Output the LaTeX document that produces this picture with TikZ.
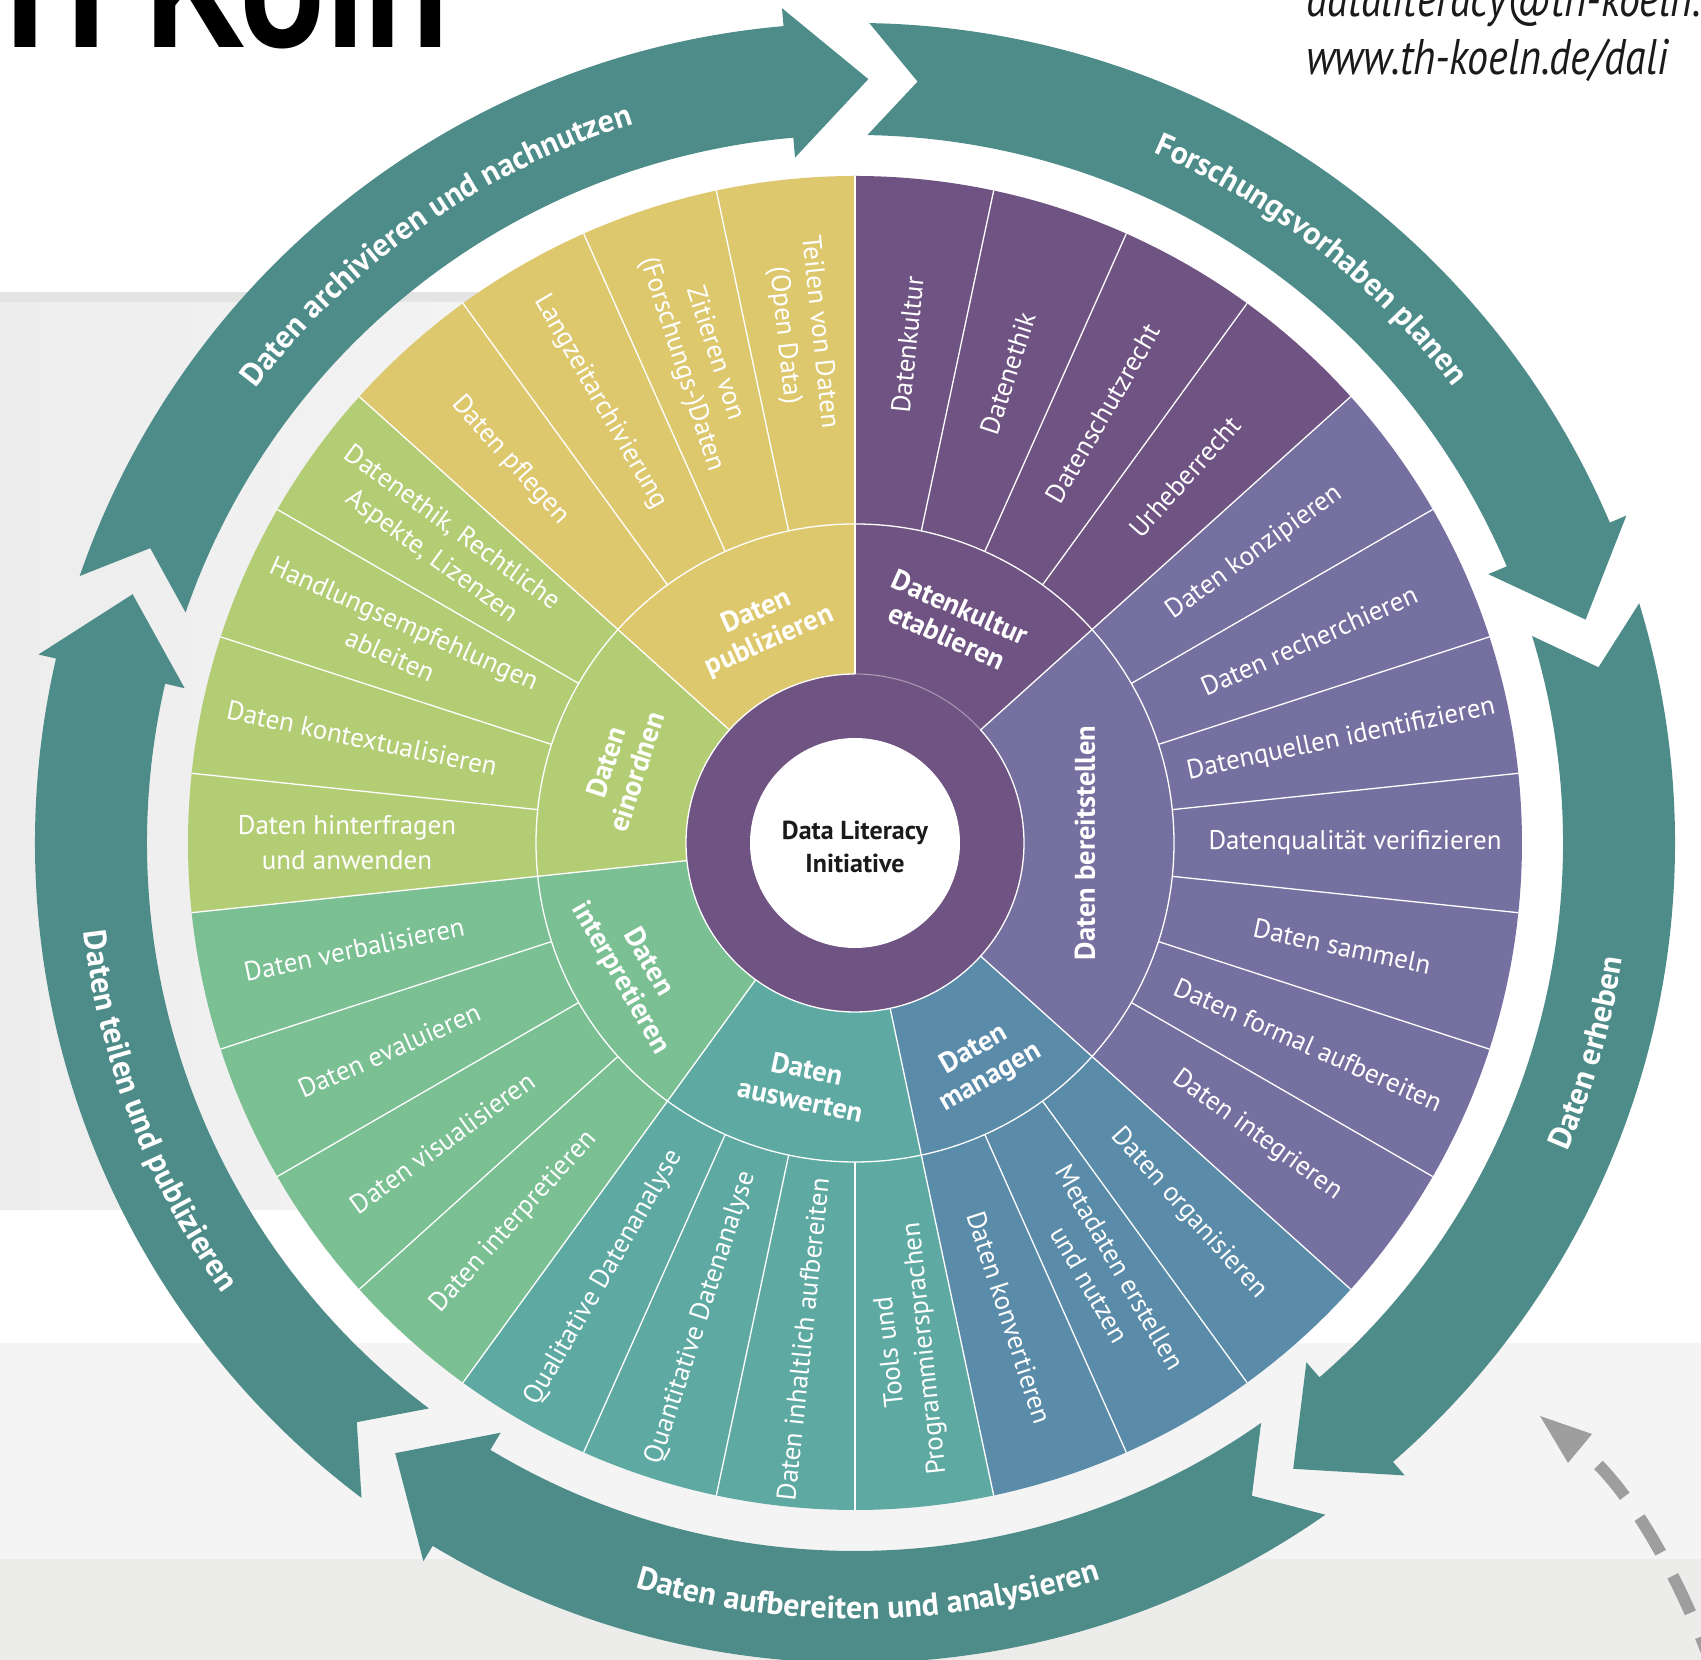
\documentclass[tikz,border=0pt]{standalone}
\usepackage{fontspec}
\setmainfont{PT Sans}
\newfontfamily\herosfam{TeX Gyre Heros}
\usepackage{graphicx}
\usetikzlibrary{decorations.text}
\definecolor{arrowc}{HTML}{4E8C89}
\definecolor{kultur}{HTML}{6F5382}
\definecolor{bereit}{HTML}{7570A0}
\definecolor{manag}{HTML}{5A8CAA}
\definecolor{auswert}{HTML}{5EAAA3}
\definecolor{interp}{HTML}{7AC093}
\definecolor{einord}{HTML}{B3CD75}
\definecolor{publ}{HTML}{DEC86E}
\definecolor{panelL}{HTML}{EDEDED}
\definecolor{panelR}{HTML}{F8F8F8}
\definecolor{panelEdge}{HTML}{E4E4E4}
\definecolor{bandA}{HTML}{F4F4F4}
\definecolor{bandB}{HTML}{ECECEA}
\definecolor{dashc}{HTML}{9E9E9E}
\definecolor{ink}{HTML}{1A1A1A}
\begin{document}
\begin{tikzpicture}[x=1pt,y=1pt,
  seg/.style={text=white, font=\fontsize{27}{35}\selectfont, align=center, inner sep=0pt},
  cat/.style={text=white, font=\bfseries\fontsize{28.5}{32}\selectfont, align=center, inner sep=0pt},
  sepline/.style={draw=white, line width=1.3pt},
  arrowtext/.style={decorate, decoration={text along path, text align=center, text color=white, text={|\bfseries\fontsize{32}{32}\selectfont|#1}}}
]
\useasboundingbox (0,0) rectangle (1701,1660);
% background
\fill[white] (0,0) rectangle (1701,1660);
\shade[left color=panelL, right color=panelR] (0,450) rectangle (855,1360);
\fill[panelEdge] (0,1358) rectangle (855,1368);
\fill[bandA] (0,101) rectangle (1701,317);
\fill[bandB] (0,0) rectangle (1701,101);

% header texts
\node[anchor=base east, inner sep=0pt, text=black, font=\herosfam\bfseries\fontsize{170}{170}\selectfont] (title) at (450,1612) {\scalebox{0.82}[1]{TH Köln}};
\node[anchor=base west, inner sep=0pt, text=ink, font=\itshape\fontsize{50}{50}\selectfont] (mail) at (1306,1643) {\scalebox{0.84}[1]{dataliteracy@th-koeln.de}};
\node[anchor=base west, inner sep=0pt, text=ink, font=\itshape\fontsize{50}{50}\selectfont] (web) at (1306,1585) {\scalebox{0.84}[1]{www.th-koeln.de/dali}};

\begin{scope}[shift={(855,817)}]
% ring arrows
\foreach \J in {89,17,-55,-127,161}{
  \pgfmathsetmacro\Jb{\J-66}
  \pgfmathsetmacro\Jt{\J-72}
  \pgfmathsetmacro\Jn{\J-3.7}
  \fill[arrowc] (\J:820) arc[start angle=\J, end angle=\Jb, radius=820]
     -- (\Jb:838) -- (\Jt:764) -- (\Jb:688) -- (\Jb:708)
     arc[start angle=\Jb, end angle=\J, radius=708] -- (\Jn:764) -- cycle;
}
\path[arrowtext={Forschungsvorhaben planen}] (90:752) arc[start angle=90, end angle=14, radius=752];
\path[arrowtext={Daten erheben}] (-54:776) arc[start angle=-54, end angle=22, radius=776];
\path[arrowtext={Daten aufbereiten und analysieren}] (-127:776) arc[start angle=-127, end angle=-51, radius=776];
\path[arrowtext={Daten teilen und publizieren}] (163:776) arc[start angle=163, end angle=239, radius=776];
\path[arrowtext={Daten archivieren und nachnutzen}] (163:752) arc[start angle=163, end angle=87, radius=752];

% category sectors
\foreach \a/\b/\c in {90/42/kultur, 42/-42/bereit, -42/-78/manag, -78/-126/auswert, -126/-174/interp, -174/-222/einord, -222/-270/publ}{
  \fill[\c] (\a:169) arc[start angle=\a, end angle=\b, radius=169] -- (\b:667)
     arc[start angle=\b, end angle=\a, radius=667] -- cycle;
}
\fill[kultur] (0,0) circle[radius=169];
\foreach \k in {0,...,29}{
  \draw[sepline] ({90-12*\k}:319) -- ({90-12*\k}:667);
}
\foreach \a in {90,42,-42,-78,-126,-174,-222}{
  \draw[sepline] (\a:169) -- (\a:319);
}
\draw[sepline] (0,0) circle[radius=319];
\draw[sepline] (42:169) arc[start angle=42, end angle=-270, radius=169];
\draw[sepline, draw opacity=0.3] (90:169) arc[start angle=90, end angle=42, radius=169];
\fill[white] (0,0) circle[radius=105];
\node[inner sep=0pt, align=center, text=ink, font=\bfseries\fontsize{26}{33}\selectfont] (centre) at (0,-4) {Data Literacy\\Initiative};

% category labels
\node[cat, rotate=-24] (c1) at (66:242) {Datenkultur\\etablieren};
\node[cat, rotate=90] (c2) at (0:230) {Daten bereitstellen};
\node[cat, rotate=30] (c3) at (-60:255) {Daten\\managen};
\node[cat, rotate=-12] (c4) at (-102:247) {Daten\\auswerten};
\node[cat, rotate=-60] (c5) at (-150:255) {Daten\\interpretieren};
\node[cat, rotate=72] (c6) at (162:246) {Daten\\einordnen};
\node[cat, rotate=24] (c7) at (113:235) {Daten\\publizieren};

% segment labels
\node[seg, rotate=84] (s0) at (84:501) {Datenkultur};
\node[seg, rotate=72] (s1) at (72:494) {Datenethik};
\node[seg, rotate=60] (s2) at (60:496) {Datenschutzrecht};
\node[seg, rotate=48] (s3) at (48:493) {Urheberrecht};
\node[seg, rotate=36] (s4) at (36:494) {Daten konzipieren};
\node[seg, rotate=24] (s5) at (24:497) {Daten recherchieren};
\node[seg, rotate=12] (s6) at (12:497) {Datenquellen identifizieren};
\node[seg, rotate=0] (s7) at (0:500) {Datenqualität verifizieren};
\node[seg, rotate=-12] (s8) at (-12:498) {Daten sammeln};
\node[seg, rotate=-24] (s9) at (-24:496) {Daten formal aufbereiten};
\node[seg, rotate=-36] (s10) at (-36:497) {Daten integrieren};
\node[seg, rotate=-48] (s11) at (-48:499) {Daten organisieren};
\node[seg, rotate=-60] (s12) at (-60:500) {Metadaten erstellen\\und nutzen};
\node[seg, rotate=-72] (s13) at (-72:499) {Daten konvertieren};
\node[seg, rotate=96] (s14) at (-84:510) {Tools und\\Programmiersprachen};
\node[seg, rotate=84] (s15) at (-96:499) {Daten inhaltlich aufbereiten};
\node[seg, rotate=72] (s16) at (-108:499) {Quantitative Datenanalyse};
\node[seg, rotate=60] (s17) at (-120:502) {Qualitative Datenanalyse};
\node[seg, rotate=48] (s18) at (-132:510) {Daten interpretieren};
\node[seg, rotate=36] (s19) at (-144:510) {Daten visualisieren};
\node[seg, rotate=24] (s20) at (-156:510) {Daten evaluieren};
\node[seg, rotate=12] (s21) at (-168:512) {Daten verbalisieren};
\node[seg, rotate=0] (s22) at (180:508) {Daten hinterfragen\\und anwenden};
\node[seg, rotate=-12] (s23) at (168:504) {Daten kontextualisieren};
\node[seg, rotate=-24] (s24) at (156:501) {Handlungsempfehlungen\\ableiten};
\node[seg, rotate=-36] (s25) at (144:511) {Datenethik, Rechtliche\\Aspekte, Lizenzen};
\node[seg, rotate=-48] (s26) at (132:515) {Daten pflegen};
\node[seg, rotate=-60] (s27) at (120:509) {Langzeitarchivierung};
\node[seg, rotate=-72] (s28) at (108:509) {Zitieren von\\(Forschungs-)Daten};
\node[seg, rotate=-84] (s29) at (96:512) {Teilen von Daten\\(Open Data)};
\end{scope}

% dashed grey arrow
\coordinate (dstart) at (1712,-5);
\coordinate (dbase) at (1580,212);
\draw[dashc, line width=12pt, dash pattern=on 41pt off 26pt, dash phase=42pt] (dbase) .. controls (1610,188) and (1660,130) .. (dstart);
\fill[dashc] (1540,244) -- (1592,226) -- (1568,197) -- cycle;
\end{tikzpicture}
\end{document}
